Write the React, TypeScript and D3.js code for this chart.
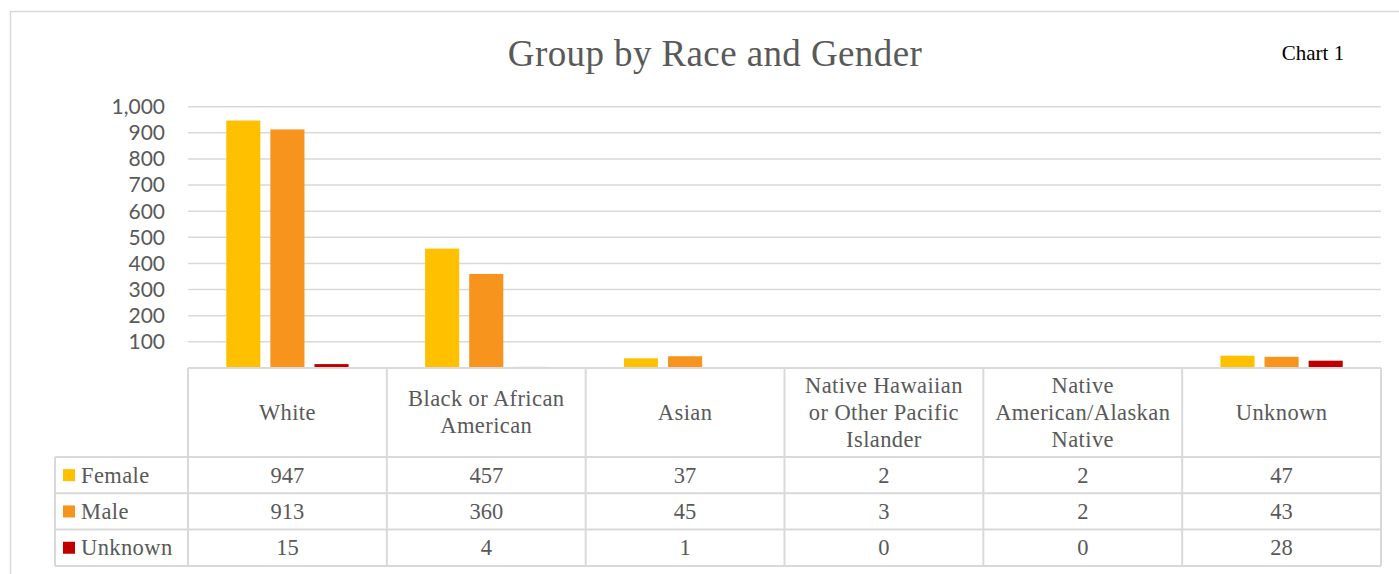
import { useEffect, useRef } from "react";
import * as d3 from "d3";

const categories = [
  "White",
  "Black or African American",
  "Asian",
  "Native Hawaiian or Other Pacific Islander",
  "Native American/Alaskan Native",
  "Unknown",
];
// header labels as they wrap in the data table
const categoryLines = [
  ["White"],
  ["Black or African", "American"],
  ["Asian"],
  ["Native Hawaiian", "or Other Pacific", "Islander"],
  ["Native", "American/Alaskan", "Native"],
  ["Unknown"],
];
const seriesNames = ["Female", "Male", "Unknown"];
const female = [947, 457, 37, 2, 2, 47];
const male = [913, 360, 45, 3, 2, 43];
const unknown = [15, 4, 1, 0, 0, 28];
const yTicks = [100, 200, 300, 400, 500, 600, 700, 800, 900, 1000];

const colors = ["#FFC000", "#F7941E", "#C00000"];

const App = () => {
  const svgRef = useRef(null);

  useEffect(() => {
    if (!svgRef.current) return;
    const svg = d3.select(svgRef.current);
    svg.selectAll("*").remove();

    const width = 1399;
    const height = 574;
    const serif = "'Liberation Serif', serif";
    const sans = "Lato, 'Open Sans', sans-serif";
    const textColor = "#595959";
    const lineColor = "#d9d9d9";
    const cellFont = 22.5;
    const cellSpacing = 0.4;

    const values = [female, male, unknown];

    // chart frame (clipped at right and bottom)
    svg
      .append("path")
      .attr("d", `M10.5,${height} V11.5 H${width}`)
      .attr("fill", "none")
      .attr("stroke", lineColor)
      .attr("stroke-width", 1.5);

    // title
    svg
      .append("text")
      .attr("x", 715)
      .attr("y", 66)
      .attr("text-anchor", "middle")
      .attr("font-family", serif)
      .attr("font-size", 37)
      .attr("letter-spacing", 0.4)
      .attr("fill", textColor)
      .text("Group by Race and Gender");

    svg
      .append("text")
      .attr("x", 1313)
      .attr("y", 60)
      .attr("text-anchor", "middle")
      .attr("font-family", serif)
      .attr("font-size", 21)
      .attr("fill", "#000")
      .text("Chart 1");

    const left = 188;
    const right = 1381;
    const x = d3.scaleBand().domain(categories).range([left, right]);
    const y = d3.scaleLinear().domain([0, 1000]).range([368, 106.7]);

    // gridlines
    svg
      .append("g")
      .selectAll("line")
      .data(yTicks)
      .enter()
      .append("line")
      .attr("x1", left)
      .attr("x2", right)
      .attr("y1", (d) => y(d))
      .attr("y2", (d) => y(d))
      .attr("stroke", lineColor)
      .attr("stroke-width", 1.5);

    // y tick labels
    svg
      .append("g")
      .selectAll("text")
      .data(yTicks)
      .enter()
      .append("text")
      .attr("x", 165)
      .attr("y", (d) => y(d))
      .attr("dy", "0.35em")
      .attr("text-anchor", "end")
      .attr("font-family", sans)
      .attr("font-size", 21)
      .attr("fill", textColor)
      .text((d) => d3.format(",")(d));

    // bars
    const groupWidth = x.bandwidth() * 0.615;
    const inner = d3
      .scaleBand()
      .domain(seriesNames)
      .range([0, groupWidth])
      .paddingInner(0.227);

    seriesNames.forEach((name, si) => {
      svg
        .append("g")
        .selectAll("rect")
        .data(categories)
        .enter()
        .append("rect")
        .attr(
          "x",
          (c) => x(c) + (x.bandwidth() - groupWidth) / 2 + inner(name)
        )
        .attr("y", (c, i) => y(values[si][i]))
        .attr("width", inner.bandwidth())
        .attr("height", (c, i) => y(0) - y(values[si][i]))
        .attr("fill", colors[si]);
    });

    // data table
    const headerTop = 368;
    const headerBottom = 457;
    const rowH = 36.3;
    const tableBottom = headerBottom + rowH * 3;
    const legendLeft = 55;
    const table = svg.append("g");

    // vertical lines
    categories.forEach((c) => {
      table
        .append("line")
        .attr("x1", x(c))
        .attr("x2", x(c))
        .attr("y1", headerTop)
        .attr("y2", tableBottom)
        .attr("stroke", lineColor)
        .attr("stroke-width", 2);
    });
    table
      .append("line")
      .attr("x1", right)
      .attr("x2", right)
      .attr("y1", headerTop)
      .attr("y2", tableBottom)
      .attr("stroke", lineColor)
      .attr("stroke-width", 2);
    table
      .append("line")
      .attr("x1", legendLeft)
      .attr("x2", legendLeft)
      .attr("y1", headerBottom)
      .attr("y2", tableBottom)
      .attr("stroke", lineColor)
      .attr("stroke-width", 2);

    // horizontal lines
    table
      .append("line")
      .attr("x1", left)
      .attr("x2", right)
      .attr("y1", headerTop)
      .attr("y2", headerTop)
      .attr("stroke", lineColor)
      .attr("stroke-width", 2);
    [0, 1, 2, 3].forEach((r) => {
      table
        .append("line")
        .attr("x1", legendLeft)
        .attr("x2", right)
        .attr("y1", headerBottom + r * rowH)
        .attr("y2", headerBottom + r * rowH)
        .attr("stroke", lineColor)
        .attr("stroke-width", 2);
    });

    // header labels
    const lineH = 27;
    categories.forEach((c, i) => {
      const lines = categoryLines[i];
      const cy = (headerTop + headerBottom) / 2;
      lines.forEach((t, li) => {
        table
          .append("text")
          .attr("x", x(c) + x.bandwidth() / 2)
          .attr("y", cy + (li - (lines.length - 1) / 2) * lineH)
          .attr("dy", "0.33em")
          .attr("text-anchor", "middle")
          .attr("font-family", serif)
          .attr("font-size", cellFont)
          .attr("letter-spacing", cellSpacing)
          .attr("fill", textColor)
          .text(t);
      });
    });

    // rows: legend key + values
    seriesNames.forEach((name, si) => {
      const cy = headerBottom + rowH * si + rowH / 2;
      table
        .append("rect")
        .attr("x", 63)
        .attr("y", cy - 6)
        .attr("width", 12)
        .attr("height", 12)
        .attr("fill", colors[si]);
      table
        .append("text")
        .attr("x", 81)
        .attr("y", cy)
        .attr("dy", "0.33em")
        .attr("font-family", serif)
        .attr("font-size", cellFont)
        .attr("letter-spacing", cellSpacing)
        .attr("fill", textColor)
        .text(name);
      categories.forEach((c, i) => {
        table
          .append("text")
          .attr("x", x(c) + x.bandwidth() / 2)
          .attr("y", cy)
          .attr("dy", "0.33em")
          .attr("text-anchor", "middle")
          .attr("font-family", serif)
          .attr("font-size", cellFont)
          .attr("fill", textColor)
          .text(values[si][i]);
      });
    });
  }, []);

  return (
    <svg
      ref={svgRef}
      width={1399}
      height={574}
      style={{ position: "absolute", left: 0, top: 0, background: "#fff" }}
    ></svg>
  );
};

export default App;
